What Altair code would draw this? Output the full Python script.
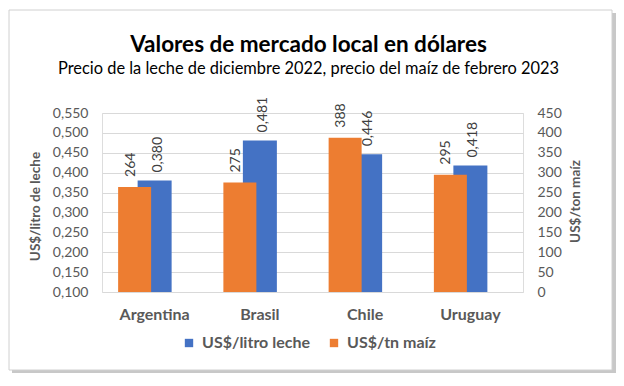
import altair as alt
import pandas as pd

# ---- data ----
paises = ["Argentina", "Brasil", "Chile", "Uruguay"]
leche = [0.380, 0.481, 0.446, 0.418]          # US$/litro de leche (eje izquierdo)
maiz = [264, 275, 388, 295]                    # US$/ton maíz (eje derecho)
serie_leche = "US$/litro leche"
serie_maiz = "US$/tn maíz"
ticks_leche = [0.100, 0.150, 0.200, 0.250, 0.300, 0.350, 0.400, 0.450, 0.500, 0.550]
ticks_maiz = [0, 50, 100, 150, 200, 250, 300, 350, 400, 450]
titulo = "Valores de mercado local en dólares"
subtitulo = "Precio de la leche de diciembre 2022, precio del maíz de febrero 2023"

df = pd.DataFrame({"pais": paises, "leche": leche, "maiz": maiz})
df["leche_lbl"] = [f"{v:.3f}".replace(".", ",") for v in leche]
df["maiz_lbl"] = [str(v) for v in maiz]

FONT = "Lato"
GRAY = "#595959"
LBL = "#404040"
BLUE = "#4472C4"
ORANGE = "#ED7D31"

W, H = 421, 179

x = alt.X(
    "pais:N", sort=paises,
    scale=alt.Scale(paddingInner=0.2, paddingOuter=0.1),
    axis=alt.Axis(title=None, labelAngle=0, labelFont=FONT, labelFontSize=16,
                  labelFontWeight="bold", labelColor=GRAY, domain=False, ticks=False,
                  tickSize=0, labelPadding=14, grid=False),
)

color = alt.Color(
    "serie:N",
    scale=alt.Scale(domain=[serie_leche, serie_maiz], range=[BLUE, ORANGE]),
    legend=alt.Legend(title=None, orient="none", legendX=79, legendY=222,
                      direction="horizontal", symbolType="square", symbolSize=70,
                      symbolStrokeWidth=0, labelFont=FONT, labelFontSize=16,
                      labelFontWeight="bold", labelColor=GRAY, columnPadding=16,
                      labelOffset=5, padding=0),
)

y_left = alt.Y(
    "leche:Q",
    scale=alt.Scale(domain=[0.1, 0.55], zero=False, nice=False),
    axis=alt.Axis(title="US$/litro de leche", values=ticks_leche, tickCount=10,
                  labelOverlap=False,
                  labelExpr="replace(format(datum.value, '.3f'), '.', ',')",
                  grid=True, gridColor="#D9D9D9", domain=False, ticks=False, tickSize=0,
                  labelPadding=14, labelFont=FONT, labelFontSize=14, labelColor=GRAY,
                  titleFont=FONT, titleFontSize=13.5, titleFontWeight="bold",
                  titleColor=GRAY, titleAngle=270, titleX=-67, titleY=93,
                  titleAlign="center", titleBaseline="middle"),
)

y_right = alt.Y(
    "maiz:Q",
    scale=alt.Scale(domain=[0, 450], nice=False),
    axis=alt.Axis(title="US$/ton maíz", orient="right", values=ticks_maiz, tickCount=10,
                  labelOverlap=False,
                  grid=False, domain=False, ticks=False, tickSize=0,
                  labelPadding=14, labelFont=FONT, labelFontSize=14, labelColor=GRAY,
                  titleFont=FONT, titleFontSize=13.5, titleFontWeight="bold",
                  titleColor=GRAY, titleAngle=270, titleX=52, titleY=88,
                  titleAlign="center", titleBaseline="middle"),
)

base = alt.Chart(df)

leche_bar = base.transform_calculate(serie=f"'{serie_leche}'").mark_bar(width=34).encode(
    x=x, y=y_left, y2=alt.datum(0.1), color=color)
leche_txt = base.mark_text(angle=270, align="left", baseline="middle", dx=8, xOffset=3,
                           font=FONT, fontSize=14, color=LBL).encode(
    x=x, y=alt.Y("leche:Q"), text="leche_lbl:N")

maiz_bar = base.transform_calculate(serie=f"'{serie_maiz}'").mark_bar(width=33, xOffset=-20).encode(
    x=x, y=y_right, color=color)
maiz_txt = base.mark_text(angle=270, align="left", baseline="middle", dx=10, xOffset=-24,
                          font=FONT, fontSize=14, color=LBL).encode(
    x=x, y=alt.Y("maiz:Q"), text="maiz_lbl:N")

frame_data = alt.Data(values=[{"k": 1}])
shadow_r = alt.Chart(frame_data).mark_rect(fill="#C8C8C8").encode(
    x=alt.value(510), x2=alt.value(514), y=alt.value(-100), y2=alt.value(260))
shadow_b = alt.Chart(frame_data).mark_rect(fill="#C8C8C8").encode(
    x=alt.value(-90), x2=alt.value(514), y=alt.value(257), y2=alt.value(260))
border = alt.Chart(frame_data).mark_rect(fill=None, stroke="#D0D0D0", strokeWidth=1).encode(
    x=alt.value(-93), x2=alt.value(510), y=alt.value(-103), y2=alt.value(257))

chart = alt.layer(
    shadow_r, shadow_b, border,
    alt.layer(leche_bar, leche_txt),
    alt.layer(maiz_bar, maiz_txt),
).resolve_scale(y="independent").properties(
    width=W, height=H,
    autosize=alt.AutoSizeParams(type="none"),
    padding={"left": 94, "top": 105, "right": 93, "bottom": 86},
    title=alt.TitleParams(text=titulo, subtitle=subtitulo, anchor="middle", frame="group",
                          font=FONT, fontSize=22.5, fontWeight="bold", color="#000000",
                          subtitleFont=FONT, subtitleFontSize=16.4, subtitleColor="#000000",
                          subtitlePadding=5, offset=0, dy=68, dx=-4),
).configure_view(stroke=None).configure(background="white")

chart.save("out.html", embed_options={"renderer": "svg", "actions": False})
